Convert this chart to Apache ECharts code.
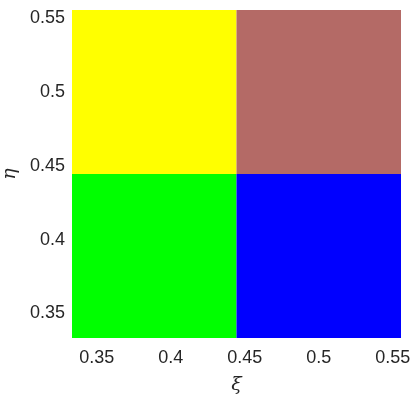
<!DOCTYPE html>
<html>
<head>
<meta charset="utf-8">
<script src="https://cdn.jsdelivr.net/npm/echarts@6/dist/echarts.min.js"></script>
<style>
html,body{margin:0;padding:0;background:#fff;}
#chart{width:419px;height:406px;}
</style>
</head>
<body>
<div id="chart"></div>
<script>
// Cell edges along xi and eta
const xiEdges = [1/3, 4/9, 5/9];
const etaEdges = [1/3, 4/9, 5/9];
// Cell colours: [xiIndex, etaIndex, colour]
const cellXi = [0, 1, 0, 1];
const cellEta = [0, 0, 1, 1];
const cellColors = ['#00ff00', '#0000ff', '#ffff00', '#b46a66'];
const tickValues = [0.35, 0.4, 0.45, 0.5, 0.55];
const tickLabels = ['0.35', '0.4', '0.45', '0.5', '0.55'];

const data = cellXi.map((xi, i) => [
  xiEdges[xi], xiEdges[xi + 1], etaEdges[cellEta[i]], etaEdges[cellEta[i] + 1], i
]);

const chart = echarts.init(document.getElementById('chart'));
const labelStyle = {
  color: '#262626', fontSize: 18, fontFamily: 'Liberation Sans, Arial, sans-serif'
};
function fmt(v) {
  const idx = tickValues.findIndex(t => Math.abs(t - v) < 1e-9);
  return idx >= 0 ? tickLabels[idx] : '';
}
chart.setOption({
  animation: false,
  grid: { left: 72, right: 18, top: 10, bottom: 68, outerBoundsMode: 'none', containLabel: false },
  xAxis: {
    type: 'value', min: xiEdges[0], max: xiEdges[xiEdges.length - 1],
    name: 'ξ', nameLocation: 'middle', nameGap: 38,
    nameTextStyle: { fontSize: 19, fontStyle: 'italic', color: '#262626', fontFamily: 'DejaVu Serif, serif' },
    axisLine: { show: false }, axisTick: { show: false }, splitLine: { show: false },
    axisLabel: Object.assign({ customValues: tickValues, formatter: fmt, margin: 11 }, labelStyle)
  },
  yAxis: {
    type: 'value', min: etaEdges[0], max: etaEdges[etaEdges.length - 1],
    name: 'η', nameLocation: 'middle', nameGap: 45, nameRotate: 90,
    nameTextStyle: { fontSize: 19, fontStyle: 'italic', color: '#262626', fontFamily: 'DejaVu Serif, serif' },
    axisLine: { show: false }, axisTick: { show: false }, splitLine: { show: false },
    axisLabel: Object.assign({ customValues: tickValues, formatter: fmt, margin: 7 }, labelStyle)
  },
  series: [{
    type: 'custom',
    data: data,
    encode: { x: [0, 1], y: [2, 3] },
    renderItem: function (params, api) {
      const p0 = api.coord([api.value(0), api.value(2)]);
      const p1 = api.coord([api.value(1), api.value(3)]);
      return {
        type: 'rect',
        shape: { x: p0[0], y: p1[1], width: p1[0] - p0[0], height: p0[1] - p1[1] },
        style: { fill: cellColors[api.value(4)], stroke: null }
      };
    }
  }]
});
</script>
</body>
</html>
